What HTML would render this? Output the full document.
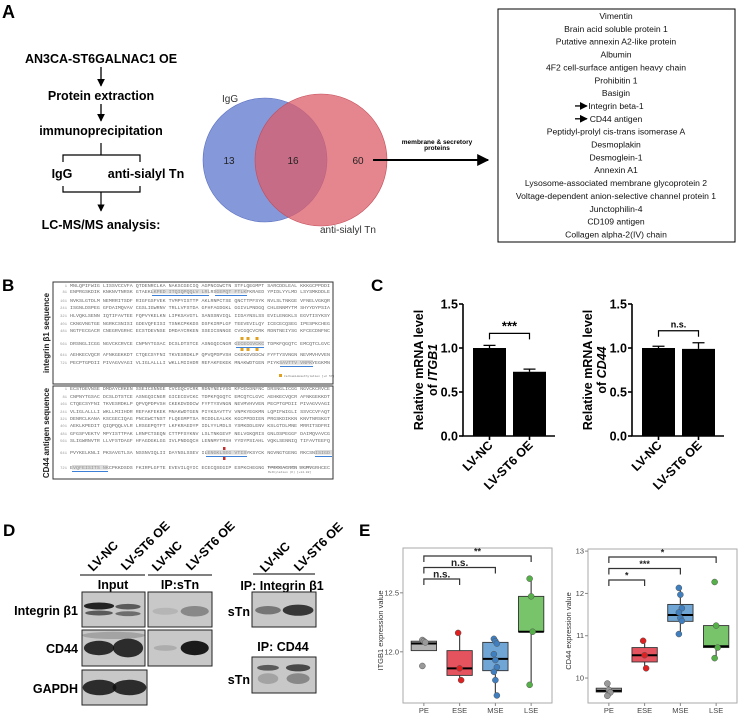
<!DOCTYPE html>
<html><head><meta charset="utf-8">
<style>
html,body{margin:0;padding:0;background:#fff;}
svg{display:block;font-family:"Liberation Sans",Arial,sans-serif;}
.b{font-weight:bold;}
</style></head>
<body>
<svg id="fig" width="746" height="713" viewBox="0 0 746 713" xmlns="http://www.w3.org/2000/svg">
<defs>
<marker id="ah" viewBox="0 0 10 10" refX="9" refY="5" markerWidth="6" markerHeight="6" orient="auto"><path d="M0,0L10,5L0,10z" fill="#000"/></marker>
</defs>
<!-- Panel A -->
<g>
<text x="2" y="18" class="b" font-size="18">A</text>
<g font-weight="bold" font-size="12.5" text-anchor="middle">
<text x="101" y="63">AN3CA-ST6GALNAC1 OE</text>
<line x1="101" y1="67" x2="101" y2="86" stroke="#000" stroke-width="1.3" marker-end="url(#ah)"/>
<text x="101" y="100">Protein extraction</text>
<line x1="101" y1="104" x2="101" y2="121" stroke="#000" stroke-width="1.3" marker-end="url(#ah)"/>
<text x="101" y="135">immunoprecipitation</text>
<path d="M101,143V155M63,162V155H140V162" fill="none" stroke="#000" stroke-width="1.2"/>
<text x="62" y="178">IgG</text>
<text x="146" y="178">anti-sialyl Tn</text>
<path d="M63,186V192H140V186M101,192V211" fill="none" stroke="#000" stroke-width="1.2" marker-end="url(#ah)"/>
<text x="101" y="229">LC-MS/MS analysis:</text>
</g>
<g>
<circle cx="265" cy="160" r="62" fill="#6f86d4" fill-opacity="0.85" stroke="#5a6fc0" stroke-width="0.6"/>
<circle cx="321" cy="160" r="66" fill="#dc5d69" fill-opacity="0.75" stroke="#c44a56" stroke-width="0.6"/>
<text x="222" y="102" font-size="10" fill="#333">IgG</text>
<text x="229" y="164" font-size="10" text-anchor="middle" fill="#222">13</text>
<text x="293" y="164" font-size="10" text-anchor="middle" fill="#222">16</text>
<text x="358" y="164" font-size="10" text-anchor="middle" fill="#222">60</text>
<text x="320" y="233" font-size="10" fill="#333">anti-sialyl Tn</text>
<line x1="373" y1="160" x2="488" y2="160" stroke="#000" stroke-width="2" marker-end="url(#ah)"/>
<text x="437" y="144" font-size="6.5" class="b" text-anchor="middle">membrane &amp; secretory</text>
<text x="437" y="150" font-size="6.5" class="b" text-anchor="middle">proteins</text>
</g>
<rect x="498" y="9" width="237" height="233" fill="none" stroke="#000" stroke-width="1"/>
<g id="plist" font-size="8.6" text-anchor="middle" fill="#111"></g>
</g>
<!-- Panel B -->
<g>
<text x="2" y="291" class="b" font-size="17">B</text>
<rect x="53" y="282" width="280" height="102" fill="#fff" stroke="#333" stroke-width="1"/>
<rect x="53" y="386" width="280" height="93" fill="#fff" stroke="#333" stroke-width="1"/>
<text transform="translate(49,333) rotate(-90)" text-anchor="middle" font-size="8" class="b" fill="#222">integrin β1 sequence</text>
<text transform="translate(49,433) rotate(-90)" text-anchor="middle" font-size="8" class="b" fill="#222">CD44 antigen sequence</text>
<g id="seqs" font-family="Liberation Mono, monospace" font-size="4.3" fill="#6a6a6a"></g>
</g>
<!-- Panel C -->
<g>
<text x="371" y="291" class="b" font-size="17">C</text>
<g id="chartC"></g>
</g>
<!-- Panel D -->
<g font-weight="bold">
<text x="3" y="536" font-size="17">D</text>
<g font-size="12.5">
<text transform="translate(93,572) rotate(-45)">LV-NC</text>
<text transform="translate(126,571) rotate(-45)">LV-ST6 OE</text>
<text transform="translate(157,572) rotate(-45)">LV-NC</text>
<text transform="translate(191,571) rotate(-45)">LV-ST6 OE</text>
<text transform="translate(265,573) rotate(-45)">LV-NC</text>
<text transform="translate(299,572) rotate(-45)">LV-ST6 OE</text>
</g>
<line x1="80" y1="575" x2="145" y2="575" stroke="#000"/>
<line x1="148" y1="575" x2="212" y2="575" stroke="#000"/>
<line x1="253" y1="574" x2="315" y2="574" stroke="#000"/>
<text x="113" y="589" font-size="12.5" text-anchor="middle">Input</text>
<text x="180" y="589" font-size="12.5" text-anchor="middle">IP:sTn</text>
<text x="282" y="590" font-size="12.5" text-anchor="middle">IP: Integrin β1</text>
<text x="283" y="651" font-size="12.5" text-anchor="middle">IP: CD44</text>
<g font-size="12.5" text-anchor="end">
<text x="78" y="615">Integrin β1</text>
<text x="78" y="653">CD44</text>
<text x="78" y="693">GAPDH</text>
<text x="250" y="616">sTn</text>
<text x="250" y="684">sTn</text>
</g>
<g id="blots"></g>
</g>
<!-- Panel E -->
<g>
<text x="359" y="536" class="b" font-size="17">E</text>
<g id="chartE"></g>
</g>
</svg>
<script>
// ---------- data ----------
const proteins = ["Vimentin","Brain acid soluble protein 1","Putative annexin A2-like protein","Albumin","4F2 cell-surface antigen heavy chain","Prohibitin 1","Basigin","Integrin beta-1","CD44 antigen","Peptidyl-prolyl cis-trans isomerase A","Desmoplakin","Desmoglein-1","Annexin A1","Lysosome-associated membrane glycoprotein 2","Voltage-dependent anion-selective channel protein 1","Junctophilin-4","CD109 antigen","Collagen alpha-2(IV) chain"];
const cCategories = ["LV-NC","LV-ST6 OE"];
const itgb1Means = [1.0, 0.73];
const itgb1Errors = [0.03, 0.03];
const cd44Means = [1.0, 0.99];
const cd44Errors = [0.02, 0.07];
const cTicks = [0.0, 0.5, 1.0, 1.5];
const eCategories = ["PE","ESE","MSE","LSE"];
const itgb1Points = [[12.10,12.09,12.08,11.88],[12.16,11.86,11.76],[12.11,12.09,12.07,11.98,11.93,11.87,11.83,11.76,11.63],[12.62,12.47,12.17,11.72]];
const itgb1Box = [[12.01,12.07,12.09,12.01,12.10],[11.80,11.86,12.01,11.76,12.16],[11.84,11.94,12.08,11.63,12.11],[12.17,12.17,12.47,11.72,12.62]]; // q1, median, q3, whiskerLo, whiskerHi
const cd44Points = [[9.87,9.72,9.66,9.58],[10.88,10.54,10.23],[12.13,11.97,11.65,11.55,11.42,11.35,11.04],[12.27,11.24,10.72,10.47]];
const cd44Box = [[9.67,9.70,9.76,9.58,9.87],[10.38,10.54,10.72,10.23,10.88],[11.34,11.49,11.74,11.04,12.13],[10.72,10.75,11.24,10.47,11.24]];
const itgb1Ticks = [12.0, 12.5];
const cd44Ticks = [10, 11, 12, 13];
const itgb1Sig = [["PE","LSE","**"],["PE","MSE","n.s."],["PE","ESE","n.s."]];
const cd44Sig = [["PE","LSE","*"],["PE","MSE","***"],["PE","ESE","*"]];
// ---------- helpers ----------
const NS="http://www.w3.org/2000/svg";
function mk(tag, attrs, parent){const e=document.createElementNS(NS,tag);for(const k in attrs)e.setAttribute(k,attrs[k]);parent.appendChild(e);return e;}
// protein list
const pl=document.getElementById('plist');
proteins.forEach((p,i)=>{
  const y=19+i*12.85;
  const t=mk('text',{x:616,y:y},pl);t.textContent=p;
  
  
  if(p==="Integrin beta-1"||p==="CD44 antigen"){
    const a=mk('line',{x1:575,y1:y-3,x2:587,y2:y-3,stroke:'#000','stroke-width':1.3,'marker-end':'url(#ah)'},pl);
    
    
  }
});
// sequences
const sq=document.getElementById('seqs');
const base="MNLQPIFWIGLISSVCCVFAQTDENRCLKANAKSCGECIQAGPNCGWCTNSTFLQEGMPTSARCDDLEALKKKGCPPDDIENPRGSKDIKKNKNVTNRSKGTAEKLKPEDITQIQPQQLVLRLRSGEPQTFTLKFKRAEDYPIDLYYLMDLSYSMKDDLENVKSLGTDLMNEMRRITSDFRIGFGSFVEKTVMPYISTTPAKLRNPCTSEQNCTTPFSYKNVLSLTNKGEVFNELVGKQRISGNLDSPEGGFDAIMQVAVCGSLIGWRNVTRLLVFSTDAGFHFAGDGKLGGIVLPNDGQCHLENNMYTMSHYYDYPSIAHLVQKLSENNIQTIFAVTEEFQPVYKELKNLIPKSAVGTLSANSSNVIQLIIDAYNSLSSEVILENGKLSEGVTISYKSYCKNGVNGTGENGRKCSNISIGDEVQFEISITSNKCPKKDSDSFKIRPLGFTEEVEVILQYICECECQSEGIPESPKCHEGNGTFECGACRCNEGRVGRHCECSTDEVNSEDMDAYCRKENSSEICSNNGECVCGQCVCRKRDNTNEIYSGKFCECDNFNCDRSNGLICGGNGVCKCRVCECNPNYTGSACDCSLDTSTCEASNGQICNGRGICECGVCKCTDPKFQGQTCEMCQTCLGVCAEHKECVQCRAFNKGEKKDTCTQECSYFNITKVESRDKLPQPVQPDPVSHCKEKDVDDCWFYFTYSVNGNNEVMVHVVENPECPTGPDIIPIVAGVVAGIVLIGLALLLIWKLLMIIHDRREFAKFEKEKMNAKWDTGENPIYKSAVTTVVNPKYEGK";
function seqRow(y,num,off,hl){
  const n=mk('text',{x:67,y:y,'text-anchor':'end','font-size':3.8,fill:'#999'},sq);n.textContent=num;
  
  
  let s="";for(let g=0;g<8;g++){let c="";for(let k=0;k<10;k++)c+=base[(off+g*10+k)%base.length];s+=c+(g<7?" ":"");}
  const t=mk('text',{x:70,y:y,textLength:260,lengthAdjust:'spacingAndGlyphs'},sq);t.textContent=s;
  
  
  (hl||[]).forEach(h=>{mk('rect',{x:h[0],y:y-4,width:h[1],height:4.6,fill:'#bbb','fill-opacity':0.5},sq);
    mk('line',{x1:h[0],y1:y+2.5,x2:h[0]+h[1],y2:y+2.5,stroke:'#3b7fd6','stroke-width':1},sq);});
}
const iRows=[287,293,302,309,317,325,332,345,356,364];
const iHl=[[],[[152,57],[215,32]],[],[],[],[],[],[[236,28]],[],[[280,33]]];
iRows.forEach((y,i)=>seqRow(y,1+i*80,i*80,iHl[i]));
[242,248,257].forEach(x=>{mk('rect',{x:x-1.5,y:337,width:3,height:3,fill:'#e0a020'},sq);mk('rect',{x:x-1.5,y:348,width:3,height:3,fill:'#e0a020'},sq);});
mk('rect',{x:279,y:374,width:3,height:3,fill:'#e0a020'},sq);
mk('text',{x:284,y:377,'font-size':3,fill:'#777'},sq).textContent="Carbamidomethylation [+C 57]";
const cRows=[390,398,405,413,420,427,435,442,454,469];
const cHl=[[],[],[],[],[],[],[],[],[[206,41],[315,17]],[[72,36]]];
cRows.forEach((y,i)=>seqRow(y,1+i*80,500+i*80,cHl[i]));
mk('rect',{x:223,y:447,width:2.5,height:3,fill:'#c03030'},sq);
mk('rect',{x:223,y:457,width:2.5,height:3,fill:'#c03030'},sq);
mk('text',{x:268,y:468,'font-size':3,fill:'#777'},sq).textContent="Deamidation (NQ) [+0.98]";
mk('text',{x:268,y:473,'font-size':3,fill:'#777'},sq).textContent="Methylation (K) [+14.02]";

// ---------- Panel C bar charts ----------
const gC=document.getElementById('chartC');
function barChart(ax, means, errs, ylab1, ylab2, sig){
  const y0=436, y1=304; const ys=v=>y0-(v-0)/(1.5-0)*(y0-y1);
  const bw=33, g=mk('g',{},gC);
  
  
  mk('path',{d:`M${ax},${y1}V${y0}H${ax+92}`,fill:'none',stroke:'#000','stroke-width':1.6},g);
  cTicks.forEach(t=>{mk('line',{x1:ax-4,y1:ys(t),x2:ax,y2:ys(t),stroke:'#000','stroke-width':1.6},g);
    const tx=mk('text',{x:ax-5,y:ys(t)+4.5,'text-anchor':'end','font-size':12.5,'font-weight':'bold'},g);tx.textContent=t.toFixed(1);
    
    });
  const xs=i=>ax+10+i*40+bw/2;
  means.forEach((m,i)=>{
    const r=mk('rect',{x:xs(i)-bw/2,y:ys(m),width:bw,height:y0-ys(m),fill:'#000'},g);
    
    
    mk('path',{d:`M${xs(i)},${ys(m)}V${ys(m+errs[i])}M${xs(i)-6},${ys(m+errs[i])}H${xs(i)+6}`,stroke:'#000','stroke-width':1.3,fill:'none'},g);
    mk('line',{x1:xs(i),y1:y0,x2:xs(i),y2:y0+4,stroke:'#000','stroke-width':1.6},g);
    const lb=mk('text',{transform:`translate(${xs(i)+4},${y0+10}) rotate(-45)`,'text-anchor':'end','font-size':12.5,'font-weight':'bold'},g);lb.textContent=cCategories[i];
    
    
  });
  const by=ys(Math.max(means[0]+errs[0],means[1]+errs[1]))-12;
  mk('path',{d:`M${xs(0)},${by+6}V${by}H${xs(1)}V${by+6}`,fill:'none',stroke:'#000','stroke-width':1.2},g);
  const st=mk('text',{x:(xs(0)+xs(1))/2,y:by-3,'text-anchor':'middle','font-size':sig==='***'?13:9,'font-weight':'bold'},g);st.textContent=sig;
  
  
  const l1=mk('text',{transform:`translate(${ax-40},370) rotate(-90)`,'text-anchor':'middle','font-size':12.5,'font-weight':'bold'},g);l1.textContent=ylab1;
  
  
  const l2=mk('text',{transform:`translate(${ax-26},370) rotate(-90)`,'text-anchor':'middle','font-size':12.5,'font-weight':'bold'},g);
  
  
  l2.innerHTML='of <tspan font-style="italic">'+ylab2+'</tspan>';
}
barChart(463, itgb1Means, itgb1Errors, "Relative mRNA level", "ITGB1", "***");
barChart(632, cd44Means, cd44Errors, "Relative mRNA level", "CD44", "n.s.");

// ---------- Panel D blots ----------
const gB=document.getElementById('blots');
function blot(x,y,w,h,bands,name){
  const g=mk('g',{},gB);
  
  
  mk('rect',{x:x,y:y,width:w,height:h,fill:'#c8c8c8',stroke:'#222','stroke-width':1},g);
  bands.forEach(b=>{mk('ellipse',{cx:x+b[0]*w,cy:y+b[1]*h,rx:b[2]*w,ry:b[3]*h,fill:'#111','fill-opacity':b[4]},g);});
}
blot(82,592,63,35,[[0.27,0.4,0.24,0.1,0.9],[0.27,0.6,0.22,0.07,0.6],[0.73,0.42,0.2,0.08,0.6],[0.73,0.62,0.2,0.07,0.5]],'blot-input-integrin');
blot(148,592,64,35,[[0.27,0.55,0.2,0.1,0.1],[0.73,0.55,0.22,0.15,0.35]],'blot-ip-integrin');
blot(82,630,63,36,[[0.27,0.5,0.24,0.2,0.85],[0.73,0.5,0.24,0.26,0.85],[0.5,0.15,0.5,0.1,0.2]],'blot-input-cd44');
blot(148,630,64,36,[[0.27,0.5,0.18,0.08,0.15],[0.73,0.5,0.22,0.2,0.95]],'blot-ip-cd44');
blot(82,670,65,35,[[0.27,0.5,0.26,0.22,0.85],[0.73,0.5,0.26,0.22,0.85]],'blot-gapdh');
blot(252,592,64,35,[[0.25,0.52,0.2,0.12,0.45],[0.72,0.52,0.24,0.16,0.8]],'blot-ip-integrin-stn');
blot(252,657,64,36,[[0.25,0.3,0.17,0.08,0.6],[0.72,0.3,0.19,0.1,0.7],[0.25,0.6,0.16,0.15,0.2],[0.72,0.6,0.18,0.15,0.35]],'blot-ip-cd44-stn');

// ---------- Panel E boxplots ----------
const gE=document.getElementById('chartE');
const eColors=["#b3b3b3","#e5535f","#6fa6d6","#78c46a"];
const eDot=["#999","#e02020","#3f7fbf","#55b048"];
function boxPlot(px,py,pw,ph,vmin,vmax,ticks,pts,boxes,sig,ylab,labx){
  const g=mk('g',{},gE);
  
  
  const ys=v=>py+ph-(v-vmin)/(vmax-vmin)*ph;
  const xs=i=>px+pw*(0.14+i*0.24);
  mk('rect',{x:px,y:py,width:pw,height:ph,fill:'#fff',stroke:'#aaa','stroke-width':1},g);
  ticks.forEach(t=>{mk('line',{x1:px-3,y1:ys(t),x2:px,y2:ys(t),stroke:'#888'},g);
    const tx=mk('text',{x:px-4,y:ys(t)+2.5,'text-anchor':'end','font-size':7.5,fill:'#444'},g);tx.textContent=(t%1===0&&ticks.length>2)?t:t.toFixed(1);
    
    });
  const bw=pw*0.17;
  boxes.forEach((b,i)=>{
    const x=xs(i);
    mk('line',{x1:x,y1:ys(b[3]),x2:x,y2:ys(b[4]),stroke:'#444','stroke-width':1.2},g);
    const r=mk('rect',{x:x-bw/2,y:ys(b[2]),width:bw,height:ys(b[0])-ys(b[2]),fill:eColors[i],stroke:'#333','stroke-width':0.9},g);
    
    
    mk('line',{x1:x-bw/2,y1:ys(b[1]),x2:x+bw/2,y2:ys(b[1]),stroke:'#000','stroke-width':2},g);
    pts[i].forEach((v,j)=>{const c=mk('circle',{cx:x+((j%3)-1)*1.5,cy:ys(v),r:3,fill:eDot[i],stroke:'#555','stroke-width':0.5},g);
      
      });
    mk('line',{x1:x,y1:py+ph,x2:x,y2:py+ph+3,stroke:'#888'},g);
    const lb=mk('text',{x:x,y:py+ph+10,'text-anchor':'middle','font-size':7.5,fill:'#444'},g);lb.textContent=eCategories[i];
    
    
  });
  sig.forEach((s,k)=>{
    const a=xs(eCategories.indexOf(s[0])), b=xs(eCategories.indexOf(s[1]));
    const y=py+8+k*11.5;
    mk('path',{d:`M${a},${y+6}V${y}H${b}V${y+6}`,fill:'none',stroke:'#333','stroke-width':1.2},g);
    const t=mk('text',{x:(a+b)/2,y:y-1.5,'text-anchor':'middle','font-size':s[2]==='n.s.'?10:9,'font-weight':'bold',fill:'#222'},g);t.textContent=s[2];
    
    
  });
  const yl=mk('text',{transform:`translate(${labx},${py+ph/2+5}) rotate(-90)`,'text-anchor':'middle','font-size':7.5,fill:'#333'},g);yl.textContent=ylab;
  
  
}
boxPlot(403,548,149,155,11.566,12.88,itgb1Ticks,itgb1Points,itgb1Box,itgb1Sig,"ITGB1 expression value",383);
boxPlot(588,549,149,154,9.41,13.05,cd44Ticks,cd44Points,cd44Box,cd44Sig,"CD44 expression value",571);
</script>
</body></html>
